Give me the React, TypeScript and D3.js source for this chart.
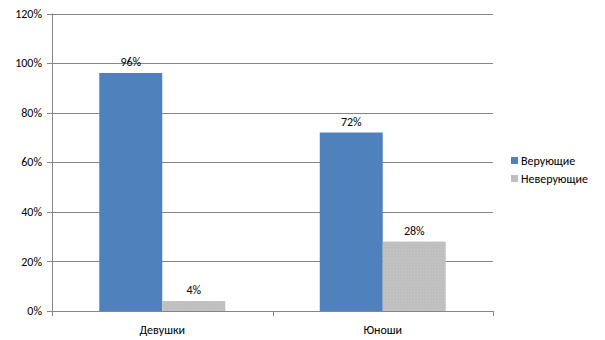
import React from "react";
import * as d3 from "d3";

const categories = ["Девушки", "Юноши"];
const seriesNames = ["Верующие", "Неверующие"];
const believers = [96, 72];
const nonBelievers = [4, 28];
const yTicks = [0, 20, 40, 60, 80, 100, 120];
const colors = ["#4F81BD", "#BFBFBF"];

export default function App() {
  const W = 605, H = 340;
  const left = 52, right = 493, top = 13.5, bottom = 311;
  const x = d3.scaleBand<string>().domain(categories).range([left, right]);
  const y = d3.scaleLinear().domain([0, 120]).range([bottom, top]);
  const inner = d3.scaleBand<number>().domain([0, 1]).range([0, x.bandwidth()]).paddingOuter(0.75).paddingInner(0);
  const series = [believers, nonBelievers];
  const font = "Carlito, Lato, 'Open Sans', sans-serif";
  return (
    <svg width={W} height={H} style={{ position: "absolute", left: 0, top: 0 }} fontFamily={font}>
      <defs>
        <pattern id="dots" width="3" height="3" patternUnits="userSpaceOnUse">
          <rect width="3" height="3" fill="#BFBFBF" />
          <rect width="1" height="1" fill="#C8C8C8" />
        </pattern>
      </defs>
      <rect width={W} height={H} fill="#fff" />
      {yTicks.map((t) => (
        <g key={t}>
          <line x1={left - 5} x2={right} y1={Math.round(y(t)) + 0.5} y2={Math.round(y(t)) + 0.5} stroke="#868686" strokeWidth={1} />
          <text x={42} y={y(t)} dy="0.35em" textAnchor="end" fontSize={12} fill="#000">{t}%</text>
        </g>
      ))}
      {categories.map((c, ci) =>
        series.map((s, si) => {
          const bx = (x(c) as number) + (inner(si) as number);
          return (
            <g key={c + si}>
              <rect x={bx} y={y(s[ci])} width={inner.bandwidth()} height={bottom - y(s[ci])}
                fill={si === 0 ? colors[0] : "url(#dots)"} />
              <text x={bx + inner.bandwidth() / 2} y={y(s[ci]) - 7} textAnchor="middle" fontSize={12} fill="#000">{s[ci]}%</text>
            </g>
          );
        })
      )}
      <line x1={left + 0.5} x2={left + 0.5} y1={top} y2={bottom + 5} stroke="#868686" />
      <line x1={left} x2={right} y1={Math.round(bottom) + 0.5} y2={Math.round(bottom) + 0.5} stroke="#868686" />
      {[left, left + x.bandwidth(), right].map((tx, i) => (
        <line key={i} x1={Math.round(tx) + 0.5} x2={Math.round(tx) + 0.5} y1={bottom} y2={bottom + 5} stroke="#868686" />
      ))}
      {categories.map((c) => (
        <text key={c} x={(x(c) as number) + x.bandwidth() / 2} y={330} dy="0.35em" textAnchor="middle" fontSize={12} fill="#000">{c}</text>
      ))}
      {seriesNames.map((n, i) => (
        <g key={n}>
          <rect x={511} y={157 + i * 18} width={7} height={7} fill={colors[i]} />
          <text x={521} y={160.5 + i * 18} dy="0.35em" fontSize={12} fill="#000">{n}</text>
        </g>
      ))}
    </svg>
  );
}
